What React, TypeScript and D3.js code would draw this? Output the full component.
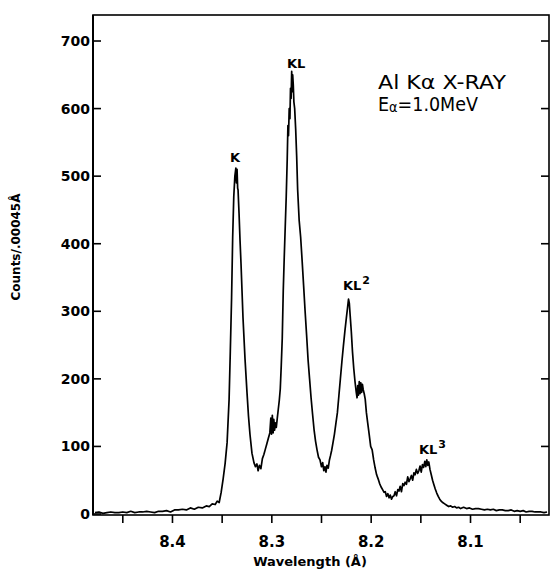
import { useEffect, useRef } from "react";
import * as d3 from "d3";

// spectrum: wavelength (Å) and counts per .00045 Å
const wavelength = [
  8.478, 8.474, 8.47, 8.466, 8.462, 8.458, 8.454, 8.45, 8.446, 8.442, 8.438, 8.434, 8.43, 8.426,
  8.422, 8.418, 8.414, 8.41, 8.406, 8.402, 8.398, 8.394, 8.39, 8.386, 8.382, 8.378, 8.374, 8.37,
  8.366, 8.363, 8.36, 8.357, 8.355, 8.353, 8.351, 8.349, 8.347, 8.345, 8.343, 8.3418, 8.3405,
  8.3394, 8.3383, 8.3372, 8.3362, 8.3356, 8.335, 8.3344, 8.334, 8.333, 8.332, 8.331, 8.33, 8.329,
  8.327, 8.325, 8.3235, 8.322, 8.32, 8.318, 8.3165, 8.315, 8.3138, 8.3125, 8.311, 8.3095, 8.308,
  8.3065, 8.305, 8.3035, 8.302, 8.301, 8.3003, 8.2995, 8.2987, 8.298, 8.2972, 8.2965, 8.2955,
  8.2945, 8.2935, 8.2925, 8.2915, 8.2905, 8.2895, 8.2885, 8.2875, 8.2865, 8.2855, 8.2845, 8.2838,
  8.2832, 8.2825, 8.2818, 8.2812, 8.2806, 8.28, 8.2795, 8.279, 8.2784, 8.2778, 8.277, 8.276,
  8.275, 8.274, 8.2725, 8.271, 8.2695, 8.268, 8.2665, 8.265, 8.2635, 8.262, 8.2605, 8.259, 8.2575,
  8.256, 8.2545, 8.253, 8.2515, 8.25, 8.2488, 8.2477, 8.2465, 8.2455, 8.2445, 8.2432, 8.242,
  8.241, 8.2398, 8.2385, 8.237, 8.2355, 8.234, 8.2325, 8.231, 8.2295, 8.228, 8.2265, 8.225,
  8.2238, 8.2228, 8.222, 8.2212, 8.22, 8.2188, 8.2175, 8.2162, 8.215, 8.2142, 8.2135, 8.2128,
  8.212, 8.2112, 8.2104, 8.2096, 8.2088, 8.208, 8.207, 8.206, 8.2048, 8.2035, 8.202, 8.2005,
  8.199, 8.1975, 8.196, 8.1945, 8.193, 8.1915, 8.19, 8.1885, 8.187, 8.1858, 8.1845, 8.1832,
  8.182, 8.1808, 8.1795, 8.1782, 8.177, 8.1758, 8.1745, 8.1732, 8.172, 8.1708, 8.1695, 8.1682,
  8.167, 8.1658, 8.1645, 8.1632, 8.162, 8.1608, 8.1595, 8.1582, 8.157, 8.1558, 8.1545, 8.1532,
  8.152, 8.1508, 8.1496, 8.1484, 8.1472, 8.146, 8.145, 8.144, 8.143, 8.142, 8.1408, 8.1395,
  8.1382, 8.137, 8.1355, 8.134, 8.1325, 8.131, 8.1295, 8.128, 8.126, 8.124, 8.122, 8.12, 8.118,
  8.116, 8.114, 8.112, 8.11, 8.107, 8.104, 8.101, 8.098, 8.095, 8.092, 8.089, 8.086, 8.083, 8.08,
  8.077, 8.074, 8.071, 8.068, 8.065, 8.062, 8.059, 8.056, 8.053, 8.05, 8.047, 8.044, 8.041, 8.038,
  8.035, 8.032, 8.029, 8.026, 8.023,
];

const counts = [
  2, 3, 1, 2, 3, 2, 2, 3, 2, 4, 2, 3, 3, 4,
  3, 2, 4, 4, 5, 3, 6, 6, 7, 6, 9, 7, 10, 9,
  12, 11, 15, 14, 19, 17, 32, 52, 75, 106, 170, 240, 320,
  410, 470, 500, 512, 490, 510, 482, 480, 445, 405, 370, 330, 290,
  230, 180, 145, 118, 90, 76, 70, 74, 64, 72, 67, 82, 88,
  96, 104, 112, 120, 142, 118, 146, 120, 140, 124, 135, 128,
  142, 155, 168, 185, 220, 260, 330, 380, 425, 470, 525, 575,
  560, 600, 585, 630, 615, 655, 625, 650, 635, 610, 600, 570,
  530, 480, 435, 410, 375, 338, 300, 265, 228, 200, 172, 148, 125,
  108, 95, 84, 80, 70, 76, 64, 70, 62, 72, 68, 80,
  86, 94, 105, 118, 134, 150, 175, 200, 225, 248, 270, 290,
  305, 318, 312, 295, 270, 240, 215, 195, 180, 172, 190, 176,
  196, 178, 194, 180, 192, 184, 178, 170, 150, 135, 118, 100,
  95, 80, 68, 58, 52, 45, 40, 36, 32, 33, 26, 30,
  24, 28, 22, 26, 27, 33, 27, 36, 34, 41, 33, 45,
  42, 47, 44, 55, 48, 52, 57, 50, 61, 58, 66, 60,
  64, 71, 62, 73, 69, 78, 70, 80, 72, 77, 66, 58,
  50, 44, 37, 31, 26, 22, 19, 17, 15, 13, 11, 12, 10,
  11, 9, 10, 8, 10, 8, 9, 7, 8, 8, 7, 6, 7, 6,
  7, 5, 6, 6, 5, 5, 6, 4, 5, 4, 5, 3, 4, 4,
  3, 3, 3, 2, 3,
];

const yTicks = [0, 100, 200, 300, 400, 500, 600, 700];
const xTicks = [8.45, 8.4, 8.35, 8.3, 8.25, 8.2, 8.15, 8.1, 8.05];
const xLabelTicks = [8.4, 8.3, 8.2, 8.1];

// peak labels: name, superscript, wavelength and count at label's left baseline
const peakNames = ["K", "KL", "KL", "KL"];
const peakSups = ["", "", "2", "3"];
const peakLabelWl = [8.3421, 8.2847, 8.2284, 8.1519];
const peakLabelCount = [521, 660, 331, 89];

const W = 550;
const H = 571;
const left = 93;
const right = 549;
const top = 15;
const bottom = 515;

const App = () => {
  const svgRef = useRef(null);

  useEffect(() => {
    const svgEl = svgRef.current;
    if (!svgEl) {
      return;
    }
    const svg = d3.select(svgEl);
    svg.selectAll("*").remove();

    const x = d3.scaleLinear().domain([8.48, 8.021]).range([left, right]);
    const y = d3.scaleLinear().domain([0, 738.5]).range([bottom - 1, top]);

    const font = "'DejaVu Sans', sans-serif";

    // frame
    svg
      .append("rect")
      .attr("x", left)
      .attr("y", top)
      .attr("width", right - left)
      .attr("height", bottom - top)
      .attr("fill", "none")
      .attr("stroke", "#000")
      .attr("stroke-width", 1.6);
    svg
      .append("line")
      .attr("x1", left)
      .attr("x2", left)
      .attr("y1", top)
      .attr("y2", bottom)
      .attr("stroke", "#000")
      .attr("stroke-width", 2);

    // y ticks, both sides pointing inward
    svg
      .append("g")
      .selectAll("line")
      .data(yTicks)
      .join("line")
      .attr("x1", left)
      .attr("x2", left + 8)
      .attr("y1", (d) => y(d))
      .attr("y2", (d) => y(d))
      .attr("stroke", "#000")
      .attr("stroke-width", 1.6);
    svg
      .append("g")
      .selectAll("line")
      .data(yTicks.filter((d) => d > 0))
      .join("line")
      .attr("x1", right)
      .attr("x2", right - 8)
      .attr("y1", (d) => y(d))
      .attr("y2", (d) => y(d))
      .attr("stroke", "#000")
      .attr("stroke-width", 1.6);
    svg
      .append("g")
      .selectAll("text")
      .data(yTicks)
      .join("text")
      .attr("x", left - 3)
      .attr("y", (d) => y(d))
      .attr("dy", "0.36em")
      .attr("text-anchor", "end")
      .attr("font-family", font)
      .attr("font-weight", "bold")
      .attr("font-size", 14)
      .text((d) => String(d));

    // x ticks below the axis
    svg
      .append("g")
      .selectAll("line")
      .data(xTicks)
      .join("line")
      .attr("x1", (d) => x(d))
      .attr("x2", (d) => x(d))
      .attr("y1", bottom)
      .attr("y2", bottom + 8)
      .attr("stroke", "#000")
      .attr("stroke-width", 1.6);
    svg
      .append("g")
      .selectAll("text")
      .data(xLabelTicks)
      .join("text")
      .attr("x", (d) => x(d))
      .attr("y", 547)
      .attr("text-anchor", "middle")
      .attr("font-family", font)
      .attr("font-weight", "bold")
      .attr("font-size", 15)
      .text((d) => d3.format(".1f")(d));

    // axis titles
    svg
      .append("text")
      .attr("x", 310)
      .attr("y", 566)
      .attr("text-anchor", "middle")
      .attr("font-family", font)
      .attr("font-weight", "bold")
      .attr("font-size", 13)
      .text("Wavelength (Å)");
    svg
      .append("text")
      .attr("transform", "translate(20,247) rotate(-90)")
      .attr("text-anchor", "middle")
      .attr("font-family", font)
      .attr("font-weight", "bold")
      .attr("font-size", 12)
      .text("Counts/.00045Å");

    // spectrum
    const points = wavelength.map((w, i) => [w, counts[i]]);
    const line = d3
      .line()
      .x((d) => x(d[0]))
      .y((d) => y(d[1]));
    svg
      .append("path")
      .attr("d", line(points))
      .attr("fill", "none")
      .attr("stroke", "#000")
      .attr("stroke-width", 1.7)
      .attr("stroke-linejoin", "round");

    // peak labels
    peakNames.forEach((name, i) => {
      const t = svg
        .append("text")
        .attr("x", x(peakLabelWl[i]))
        .attr("y", y(peakLabelCount[i]))
        .attr("font-family", font)
        .attr("font-weight", "bold")
        .attr("font-size", 13)
        .text(name);
      if (peakSups[i]) {
        t.append("tspan")
          .attr("dx", 1)
          .attr("dy", -6)
          .attr("font-size", 11)
          .text(peakSups[i]);
      }
    });

    // info text
    svg
      .append("text")
      .attr("x", 378)
      .attr("y", 89)
      .attr("font-family", font)
      .attr("font-size", 19)
      .attr("textLength", 128)
      .attr("lengthAdjust", "spacingAndGlyphs")
      .text("Al Kα X-RAY");
    const e = svg
      .append("text")
      .attr("x", 378)
      .attr("y", 111)
      .attr("font-family", font)
      .attr("font-size", 19)
      .attr("textLength", 100)
      .attr("lengthAdjust", "spacingAndGlyphs");
    e.append("tspan").text("E");
    e.append("tspan").attr("font-size", 14).attr("dy", 1).text("α");
    e.append("tspan").attr("dy", -1).text("=1.0MeV");
  }, []);

  return (
    <svg
      ref={svgRef}
      width={W}
      height={H}
      style={{ position: "absolute", left: 0, top: 0, background: "#fff" }}
    />
  );
};

export default App;
